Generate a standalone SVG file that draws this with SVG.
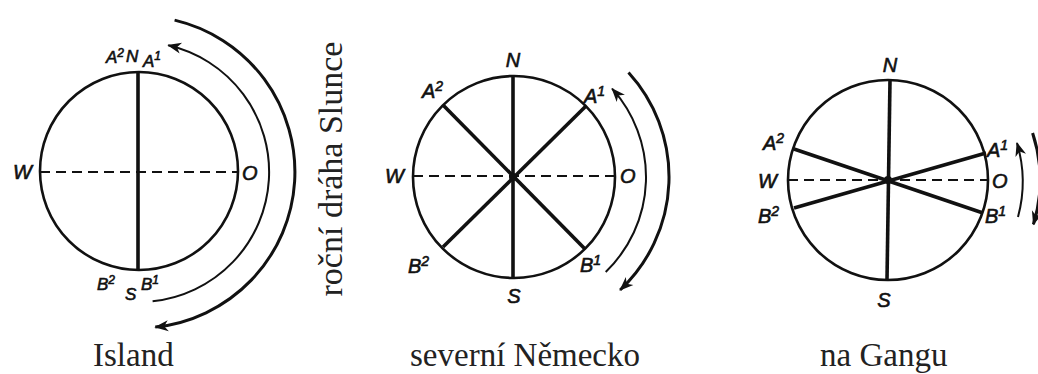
<svg xmlns="http://www.w3.org/2000/svg" width="1038" height="374" viewBox="0 0 1038 374">
<style>
.circ{fill:none;stroke:#111;stroke-width:2.6}
.rad{stroke:#111;stroke-width:3.6;stroke-linecap:butt}
.dash{stroke:#111;stroke-width:2;stroke-dasharray:10 6}
.mid{fill:none;stroke:#111;stroke-width:2}
.out{fill:none;stroke:#111;stroke-width:3}
.lab{font-family:"Liberation Sans",Arial,sans-serif;font-style:italic;font-size:20px;fill:#111;stroke:#111;stroke-width:0.6}
.sm{font-size:17px}
.sup{font-size:14px}
.cap{font-family:"Liberation Serif","Times New Roman",serif;font-size:33px;fill:#222}
</style>
<defs>
<marker id="ah" viewBox="-14 -6 16 12" refX="0" refY="0" markerWidth="16" markerHeight="12" markerUnits="userSpaceOnUse" orient="auto">
<path d="M1,0 L-13,-5.5 L-9,0 L-13,5.5 Z" fill="#111"/>
</marker>
</defs>
<rect width="1038" height="374" fill="#fff"/>

<g id="island">
<circle class="circ" cx="139" cy="171" r="99"/>
<line class="dash" x1="40" y1="172" x2="238" y2="172"/>
<line class="rad" x1="138" y1="71" x2="138" y2="270"/>
<text class="lab sm" x="106" y="63">A<tspan class="sup" dy="-6" style="font-size:12px">2</tspan></text>
<text class="lab sm" x="126" y="62">N</text>
<text class="lab sm" x="143" y="67">A<tspan class="sup" dy="-7" style="font-size:12px">1</tspan></text>
<text class="lab" x="13" y="179">W</text>
<text class="lab" x="242" y="180">O</text>
<text class="lab sm" x="97" y="290">B<tspan class="sup" dy="-6" style="font-size:12px">2</tspan></text>
<text class="lab sm" x="125" y="300">S</text>
<text class="lab sm" x="141" y="290">B<tspan class="sup" dy="-6" style="font-size:12px">1</tspan></text>
</g>

<g id="nemecko">
<circle class="circ" cx="514" cy="177" r="101"/>
<line class="dash" x1="413" y1="176" x2="615" y2="176"/>
<line class="rad" x1="513" y1="76" x2="513" y2="278"/>
<line class="rad" x1="443" y1="105" x2="585" y2="249"/>
<line class="rad" x1="586" y1="106" x2="443" y2="247"/>
<circle cx="513" cy="177" r="4" fill="#111"/>
<text class="lab" x="513" y="67" text-anchor="middle">N</text>
<text class="lab" x="422" y="98">A<tspan class="sup" dy="-7">2</tspan></text>
<text class="lab" x="584" y="103">A<tspan class="sup" dy="-7">1</tspan></text>
<text class="lab" x="385" y="183">W</text>
<text class="lab" x="620" y="183">O</text>
<text class="lab" x="408" y="273">B<tspan class="sup" dy="-7">2</tspan></text>
<text class="lab" x="580" y="272">B<tspan class="sup" dy="-7">1</tspan></text>
<text class="lab" x="514" y="303" text-anchor="middle">S</text>
</g>

<g id="gangu">
<circle class="circ" cx="888" cy="180" r="100"/>
<line class="dash" x1="788" y1="180" x2="988" y2="180"/>
<line class="rad" x1="890" y1="80" x2="887" y2="280"/>
<line class="rad" x1="794" y1="149" x2="983" y2="213"/>
<line class="rad" x1="986" y1="153" x2="794" y2="208"/>
<circle cx="888" cy="180" r="4" fill="#111"/>
<text class="lab" x="890" y="72" text-anchor="middle">N</text>
<text class="lab" x="763" y="150">A<tspan class="sup" dy="-7">2</tspan></text>
<text class="lab" x="758" y="188">W</text>
<text class="lab" x="758" y="223">B<tspan class="sup" dy="-7">2</tspan></text>
<text class="lab" x="987" y="157">A<tspan class="sup" dy="-7">1</tspan></text>
<text class="lab" x="992" y="188">O</text>
<text class="lab" x="985" y="223">B<tspan class="sup" dy="-7">1</tspan></text>
<text class="lab" x="884" y="307" text-anchor="middle">S</text>
</g>

<g id="connectors">
<path class="mid" d="M152.6,301.3 A130,130 0 0 0 168.2,45.3" marker-end="url(#ah)"/>
<path class="out" d="M174.6,20.1 A156,156 0 0 1 155.3,327.1" marker-end="url(#ah)"/>
<path class="mid" d="M605.7,272 A132,132 0 0 0 612.1,88.7" marker-end="url(#ah)"/>
<path class="out" d="M628.5,72.5 A155,155 0 0 1 620.1,290" marker-end="url(#ah)"/>
<path class="mid" d="M1018,217 A135,135 0 0 0 1017,143" marker-end="url(#ah)"/>
<path class="out" d="M1032.6,133 A152,152 0 0 1 1033.4,224.4" marker-end="url(#ah)"/>
</g>

<g id="vertical-label">
<text class="cap" transform="translate(342,169) rotate(-90)" text-anchor="middle" style="font-size:34px">roční dráha Slunce</text>
</g>

<g id="captions">
<text class="cap" x="93" y="366">Island</text>
<text class="cap" x="410" y="366">severní Německo</text>
<text class="cap" x="820" y="366">na Gangu</text>
</g>
</svg>
